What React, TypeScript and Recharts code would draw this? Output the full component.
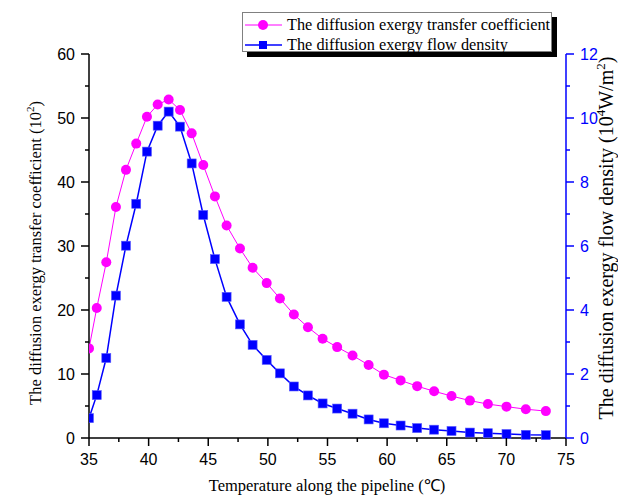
import React from 'react';
import { LineChart, Line, XAxis, YAxis, Legend } from 'recharts';

// Temperature along the pipeline (°C)
const temperature = [
  35.0, 35.65, 36.45, 37.26, 38.1, 38.96, 39.86, 40.76, 41.68, 42.63, 43.61, 44.58,
  45.56, 46.54, 47.66, 48.72, 49.9, 51.01, 52.18, 53.36, 54.59, 55.81, 57.1, 58.45,
  59.73, 61.13, 62.52, 63.94, 65.4, 66.94, 68.45, 70.01, 71.63, 73.31,
];
// The diffusion exergy transfer coefficient (10^2)
const transferCoefficient = [
  14.0, 20.3, 27.45, 36.1, 41.9, 46.0, 50.2, 52.1, 52.9, 51.25, 47.6, 42.65,
  37.75, 33.2, 29.6, 26.6, 24.2, 21.8, 19.3, 17.3, 15.5, 14.2, 12.9, 11.4,
  9.9, 9.0, 8.1, 7.3, 6.56, 5.84, 5.3, 4.9, 4.5, 4.2,
];
// The diffusion exergy flow density (10^4 W/m^2)
const flowDensity = [
  0.62, 1.34, 2.5, 4.45, 6.01, 7.32, 8.95, 9.76, 10.2, 9.73, 8.58, 6.97,
  5.59, 4.41, 3.55, 2.91, 2.44, 2.02, 1.61, 1.33, 1.08, 0.92, 0.76, 0.58,
  0.46, 0.39, 0.31, 0.26, 0.22, 0.17, 0.15, 0.125, 0.1, 0.09,
];

const xTicks = [35, 37.5, 40, 42.5, 45, 47.5, 50, 52.5, 55, 57.5, 60, 62.5, 65, 67.5, 70, 72.5, 75];
const leftTicks = [0, 5, 10, 15, 20, 25, 30, 35, 40, 45, 50, 55, 60];
const rightTicks = [0, 1, 2, 3, 4, 5, 6, 7, 8, 9, 10, 11, 12];

const seriesNames = {
  coef: 'The diffusion exergy transfer coefficient',
  flow: 'The diffusion exergy flow density',
};

const data = temperature.map((t, i) => ({
  t,
  coef: transferCoefficient[i],
  flow: flowDensity[i],
}));

const PINK = '#ff00ff';
const BLUE = '#0000ff';
const SANS = '"Liberation Sans", Arial, sans-serif';
const SERIF = '"Liberation Serif", "Times New Roman", serif';

const BottomTick = (props: any) => {
  const { x, y, payload } = props;
  const v = payload.value;
  const major = v % 5 === 0;
  return (
    <g>
      <line x1={x} y1={y} x2={x} y2={y + (major ? 8 : 4)} stroke="#000" strokeWidth={1.5} />
      {major && (
        <text x={x} y={y + 27} textAnchor="middle" fontFamily={SANS} fontSize={16} fill="#000">
          {v}
        </text>
      )}
    </g>
  );
};

const LeftTick = (props: any) => {
  const { x, y, payload } = props;
  const v = payload.value;
  const major = v % 10 === 0;
  return (
    <g>
      <line x1={x} y1={y} x2={x - (major ? 8 : 4)} y2={y} stroke="#000" strokeWidth={1.5} />
      {major && (
        <text x={x - 14} y={y + 6} textAnchor="end" fontFamily={SANS} fontSize={16} fill="#000">
          {v}
        </text>
      )}
    </g>
  );
};

const RightTick = (props: any) => {
  const { x, y, payload } = props;
  const v = payload.value;
  const major = v % 2 === 0;
  return (
    <g>
      <line x1={x} y1={y} x2={x + (major ? 8 : 4)} y2={y} stroke={BLUE} strokeWidth={1.5} />
      {major && (
        <text x={x + 14} y={y + 6} textAnchor="start" fontFamily={SANS} fontSize={16} fill={BLUE}>
          {v}
        </text>
      )}
    </g>
  );
};

const SquareDot = (props: any) => {
  const { cx, cy } = props;
  if (cx == null || cy == null) return null;
  return <rect x={cx - 4.5} y={cy - 4.5} width={9} height={9} fill={BLUE} stroke="#5a5aff" strokeWidth={0.6} />;
};

const LegendContent = () => (
  <div
    style={{
      width: 310,
      height: 40,
      boxSizing: 'border-box',
      border: '1px solid #808080',
      background: '#fff',
      boxShadow: '5px 5px 0 #000',
      fontFamily: SERIF,
      fontSize: 16.3,
      color: '#000',
      position: 'relative',
    }}
  >
    <div style={{ position: 'absolute', left: 1, top: 3, height: 18, display: 'flex', alignItems: 'center', whiteSpace: 'nowrap' }}>
      <svg width={40} height={14} style={{ display: 'block' }}>
        <line x1={1} y1={7} x2={38} y2={7} stroke={PINK} strokeWidth={1} />
        <circle cx={19} cy={7} r={5} fill={PINK} />
      </svg>
      <span style={{ marginLeft: 3, lineHeight: '18px' }}>{seriesNames.coef}</span>
    </div>
    <div style={{ position: 'absolute', left: 1, top: 23, height: 18, display: 'flex', alignItems: 'center', whiteSpace: 'nowrap' }}>
      <svg width={40} height={14} style={{ display: 'block' }}>
        <line x1={1} y1={7} x2={38} y2={7} stroke={BLUE} strokeWidth={1.5} />
        <rect x={15} y={3} width={8} height={8} fill={BLUE} />
      </svg>
      <span style={{ marginLeft: 3, lineHeight: '18px' }}>{seriesNames.flow}</span>
    </div>
  </div>
);

const XTitle = () => (
  <text x={327} y={491} textAnchor="middle" fontFamily={SERIF} fontSize={16.5} fill="#000">
    Temperature along the pipeline (℃)
  </text>
);

const LeftTitle = () => (
  <text
    x={0}
    y={0}
    transform="translate(41 253) rotate(-90)"
    textAnchor="middle"
    fontFamily={SERIF}
    fontSize={16.5}
    fill="#000"
  >
    The diffusion exergy transfer coefficient (10
    <tspan dy={-7} fontSize={11}>2</tspan>
    <tspan dy={7}>)</tspan>
  </text>
);

const RightTitle = () => (
  <text
    x={0}
    y={0}
    transform="translate(613 238) rotate(-90)"
    textAnchor="middle"
    fontFamily={SERIF}
    fontSize={20}
    fill="#000"
  >
    The diffusion exergy flow density (10
    <tspan dy={-8} fontSize={13}>4</tspan>
    <tspan dy={8}>W/m</tspan>
    <tspan dy={-8} fontSize={13}>2</tspan>
    <tspan dy={8}>)</tspan>
  </text>
);

export default function App() {
  return (
    <div style={{ position: 'absolute', left: 0, top: 0, width: 618, height: 496, background: '#fff' }}>
      <LineChart
        width={618}
        height={496}
        data={data}
        margin={{ top: 54, right: 0, bottom: 0, left: 0 }}
      >
        <XAxis
          dataKey="t"
          type="number"
          domain={[35, 75]}
          ticks={xTicks}
          interval={0}
          allowDataOverflow
          height={58}
          tickSize={0}
          tickMargin={0}
          tick={<BottomTick />}
          axisLine={{ stroke: '#000', strokeWidth: 1.5 }}
          label={{ content: () => <XTitle /> }}
        />
        <YAxis
          yAxisId="left"
          orientation="left"
          type="number"
          domain={[0, 60]}
          ticks={leftTicks}
          interval={0}
          width={89}
          tickSize={0}
          tickMargin={0}
          tick={<LeftTick />}
          axisLine={{ stroke: '#000', strokeWidth: 1.5 }}
          label={{ content: () => <LeftTitle /> }}
        />
        <YAxis
          yAxisId="right"
          orientation="right"
          type="number"
          domain={[0, 12]}
          ticks={rightTicks}
          interval={0}
          width={52}
          tickSize={0}
          tickMargin={0}
          tick={<RightTick />}
          axisLine={{ stroke: BLUE, strokeWidth: 1.5 }}
          label={{ content: () => <RightTitle /> }}
        />
        <Legend
          layout="vertical"
          align="center"
          verticalAlign="middle"
          content={<LegendContent />}
          wrapperStyle={{ position: 'absolute', left: 242, top: 12, width: 310, height: 40 }}
        />
        <Line
          yAxisId="left"
          dataKey="coef"
          name={seriesNames.coef}
          stroke={PINK}
          strokeWidth={1}
          dot={{ r: 5, fill: PINK, stroke: PINK, strokeWidth: 0 }}
          isAnimationActive={false}
        />
        <Line
          yAxisId="right"
          dataKey="flow"
          name={seriesNames.flow}
          stroke={BLUE}
          strokeWidth={1.5}
          dot={<SquareDot />}
          isAnimationActive={false}
        />
      </LineChart>
    </div>
  );
}
